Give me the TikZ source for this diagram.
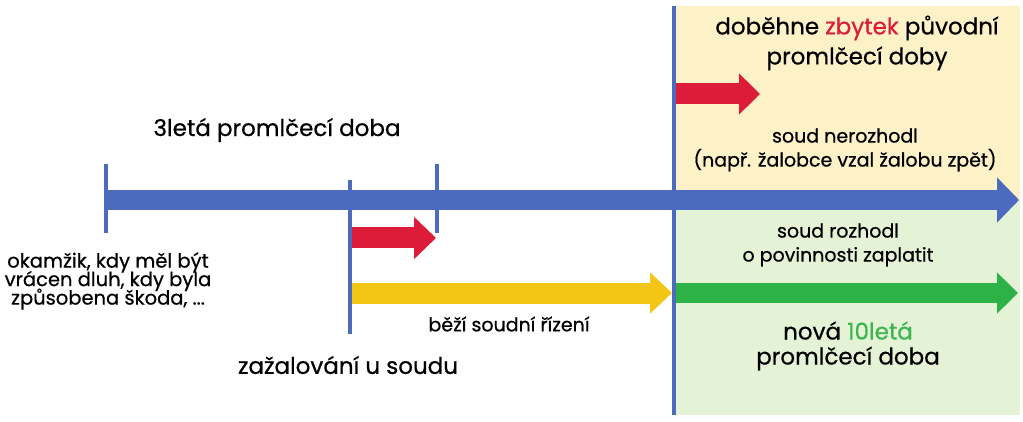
\documentclass[tikz,border=0pt]{standalone}
\usepackage{fontspec}
\setmainfont{Poppins}[FakeBold=0.6]
\usetikzlibrary{arrows.meta}
\definecolor{tlblue}{RGB}{76,106,190}
\definecolor{tlred}{RGB}{220,28,56}
\definecolor{tlyellow}{RGB}{243,197,20}
\definecolor{tlgreen}{RGB}{45,178,72}
\definecolor{txtgreen}{RGB}{60,180,80}
\definecolor{bgyellow}{RGB}{253,241,200}
\definecolor{bggreen}{RGB}{228,242,214}
\newcommand\tightlines{\lineskiplimit -100pt\relax}
\begin{document}
\begin{tikzpicture}[x=1pt,y=-1pt,
  tick/.style={draw=tlblue,line width=4pt},
  lbl/.style={align=center,inner sep=0pt,font=\fontsize{19}{24}\selectfont\tightlines},
  biglbl/.style={align=center,inner sep=0pt,font=\fontsize{23}{27}\selectfont\tightlines}]
\useasboundingbox (0,0) rectangle (1023,422);
% backgrounds
\fill[bgyellow] (674,6) rectangle (1020,200);
\fill[bggreen] (674,200) rectangle (1020,415);
% coordinates
\coordinate (start) at (106,200);
\coordinate (end) at (1019,200);
% main blue bar
\draw[tlblue,line width=20pt,-{Triangle[length=22pt,width=44pt]}] (start) -- (end);
% ticks
\draw[tick] (106,164) -- (106,233);
\draw[tick] (437,164) -- (437,233);
\draw[tick] (350,180) -- (350,334);
\draw[tick] (674,6) -- (674,415);
% red arrows
\coordinate (r1a) at (352,238);
\coordinate (r1b) at (436,238);
\draw[tlred,line width=21pt,-{Triangle[length=22pt,width=41pt]}] (r1a) -- (r1b);
\coordinate (r2a) at (676,94);
\coordinate (r2b) at (760,94);
\draw[tlred,line width=21pt,-{Triangle[length=21pt,width=40pt]}] (r2a) -- (r2b);
% yellow
\coordinate (ya) at (352,293);
\coordinate (yb) at (672,293);
\draw[tlyellow,line width=21pt,-{Triangle[length=22pt,width=40pt]}] (ya) -- (yb);
% green
\coordinate (ga) at (676,293);
\coordinate (gb) at (1018,293);
\draw[tlgreen,line width=20pt,-{Triangle[length=21pt,width=40pt]}] (ga) -- (gb);
% texts
\node[biglbl] (t3) at (277,130) {3letá promlčecí doba};
\node[lbl,font=\fontsize{19.5}{18.5}\selectfont\tightlines] (tok) at (108,281) {okamžik, kdy měl být\\vrácen dluh, kdy byla\\způsobena škoda, ...};
\node[biglbl] (tzal) at (348,365) {zažalování u soudu};
\node[lbl] (tbezi) at (509,324) {běží soudní řízení};
\node[biglbl,font=\fontsize{23}{30}\selectfont\tightlines] (tdob) at (857,43) {doběhne {\color{tlred}zbytek} původní\\promlčecí doby};
\node[lbl] (tner) at (845,150) {soud nerozhodl\\(např. žalobce vzal žalobu zpět)};
\node[lbl] (troz) at (838,245) {soud rozhodl\\o povinnosti zaplatit};
\node[biglbl,font=\fontsize{23}{25}\selectfont\tightlines] (tnova) at (848,346) {nová {\color{txtgreen}10letá}\\promlčecí doba};
\end{tikzpicture}
\end{document}
